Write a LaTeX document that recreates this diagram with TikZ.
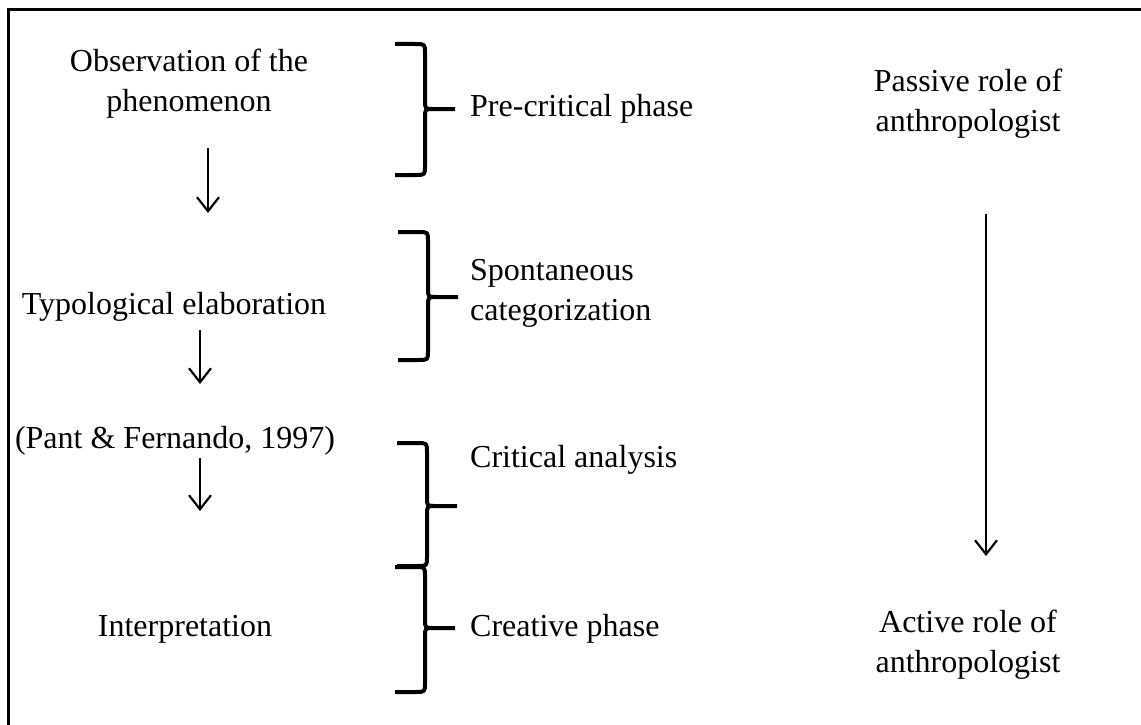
\documentclass[tikz,border=0pt]{standalone}
\usepackage{fontspec}
\setmainfont{Liberation Serif}
\usetikzlibrary{arrows.meta,positioning}

\tikzset{
  phase/.style={anchor=west, align=left, inner sep=0pt},
  stage/.style={align=center, inner sep=0pt},
  flow/.style={-{Straight Barb[length=14pt,width=22pt,line width=2.2pt]}, line width=2.2pt},
  bracket/.style={line width=4pt, line join=round}
}

\begin{document}
\begin{tikzpicture}[x=1pt,y=-1pt,font=\fontsize{32}{40}\selectfont]
   \useasboundingbox (0,0) rectangle (1141,725);
   % frame
   \draw[line width=3pt] (8,725) -- (8,10) -- (1141,10);

   % left column
   \node[stage] (observe) at (189,84)  {Observation of the\\phenomenon};
   \node[stage] (typology) at (174,307) {Typological elaboration};
   \node[stage] (pant) at (175,441)    {(Pant \& Fernando, 1997)};
   \node[stage] (interp) at (185,629)  {Interpretation};

   % middle column
   \node[phase] (precrit) at (470,109)  {Pre-critical phase};
   \node[phase] (spont) at (470,293)    {Spontaneous\\categorization};
   \node[phase] (critic) at (470,460)   {Critical analysis};
   \node[phase] (creative) at (470,629) {Creative phase};

   % right column
   \node[stage] (passive) at (968,104) {Passive role of\\anthropologist};
   \node[stage] (active) at (968,645)  {Active role of\\anthropologist};

   % arrow ends
   \coordinate (a1) at (208,148);  \coordinate (b1) at (208,213);
   \coordinate (a2) at (200,330);  \coordinate (b2) at (200,384);
   \coordinate (a3) at (200,458);  \coordinate (b3) at (200,511);
   \coordinate (a4) at (986,214);  \coordinate (b4) at (986,556);

   \draw[flow] (a1) -- (b1);
   \draw[flow] (a2) -- (b2);
   \draw[flow] (a3) -- (b3);
   \draw[flow] (a4) -- (b4);

   % braces
   \foreach \xv/\ya/\yb/\yc in {425/44/109/175, 428/232/297/360, 427/443/506/566, 425/567/628/692}
     \draw[bracket] (\xv-30,\ya) -- (\xv-10,\ya) .. controls (\xv,\ya) .. (\xv,\ya+9)
        -- (\xv,\yb-9) .. controls (\xv,\yb) .. (\xv+8,\yb) -- (\xv+30,\yb)
        (\xv+8,\yb) .. controls (\xv,\yb) .. (\xv,\yb+9)
        -- (\xv,\yc-9) .. controls (\xv,\yc) .. (\xv-10,\yc) -- (\xv-30,\yc);
\end{tikzpicture}
\end{document}
